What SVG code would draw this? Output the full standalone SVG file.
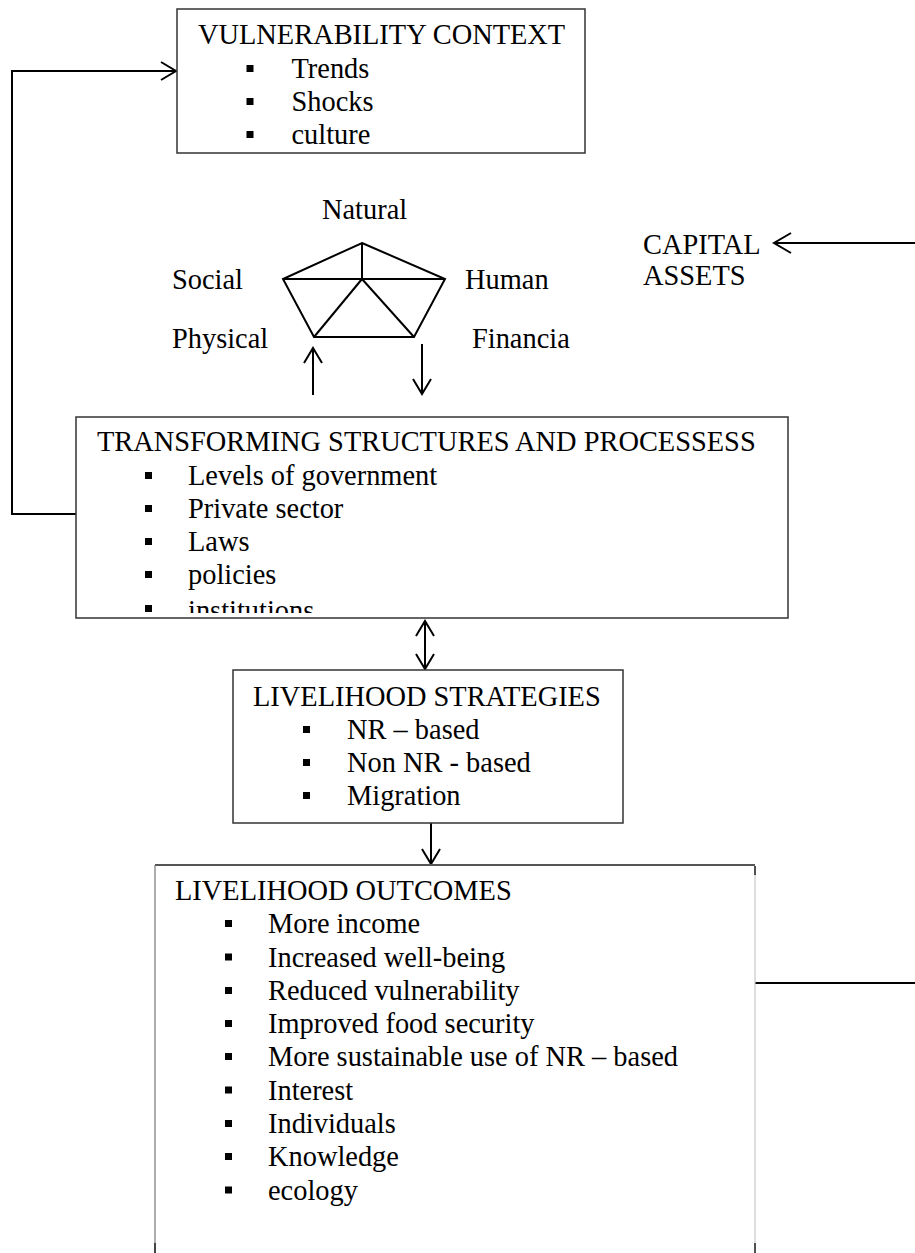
<svg xmlns="http://www.w3.org/2000/svg" xmlns:xlink="http://www.w3.org/1999/xlink" width="915" height="1253" viewBox="0 0 915 1253">
  <style>
    .t { font-family: "Liberation Serif", "Times New Roman", serif; font-size: 28.4px; fill: #000; }
    .box { fill: #fff; stroke: #333; stroke-width: 1.5; }
    .ln { fill: none; stroke: #000; stroke-width: 2; }
    .pent { fill: none; stroke: #000; stroke-width: 2; stroke-linejoin: miter; }
  </style>
  <defs>
    <rect id="bul" x="0" y="0" width="7" height="7" fill="#000"/>
    <marker id="chev" viewBox="-18 -11 20 22" markerWidth="20" markerHeight="22" refX="0" refY="0" orient="auto-start-reverse" markerUnits="userSpaceOnUse">
      <path d="M-15,-9 L0,0 L-15,9" fill="none" stroke="#000" stroke-width="2"/>
    </marker>
    <marker id="chevL" viewBox="-20 -12 22 24" markerWidth="22" markerHeight="24" refX="0" refY="0" orient="auto" markerUnits="userSpaceOnUse">
      <path d="M-17,-10 L0,0 L-17,10" fill="none" stroke="#000" stroke-width="2"/>
    </marker>
    <clipPath id="tsClip">
      <rect x="76" y="417" width="712" height="196"/>
    </clipPath>
  </defs>

  <!-- connectors -->
  <g id="connectors">
    <polyline class="ln" points="78,514 12,514 12,71 176,71" marker-end="url(#chev)"/>
    <line class="ln" x1="313" y1="395" x2="313" y2="348" marker-end="url(#chev)"/>
    <line class="ln" x1="422" y1="344" x2="422" y2="394" marker-end="url(#chev)"/>
    <line class="ln" x1="915" y1="243" x2="774" y2="243" marker-end="url(#chevL)"/>
    <line class="ln" x1="425" y1="621" x2="425" y2="669" marker-start="url(#chev)" marker-end="url(#chev)"/>
    <line class="ln" x1="431" y1="823" x2="431" y2="864" marker-end="url(#chev)"/>
    <line class="ln" x1="755" y1="983" x2="915" y2="983"/>
  </g>

  <!-- vulnerability context -->
  <g id="vulnerability">
    <rect class="box" x="177" y="9" width="408" height="144"/>
    <text class="t" x="198" y="44">VULNERABILITY CONTEXT</text>
    <use xlink:href="#bul" x="246.5" y="65"/>
    <text class="t" x="291.5" y="78">Trends</text>
    <use xlink:href="#bul" x="246.5" y="98"/>
    <text class="t" x="291.5" y="111">Shocks</text>
    <use xlink:href="#bul" x="246.5" y="131"/>
    <text class="t" x="291.5" y="144">culture</text>
  </g>

  <!-- capital assets pentagon -->
  <g id="capital-pentagon">
    <polygon class="pent" points="362,243 445,279 414,337 314,337 283,279"/>
    <line class="pent" x1="283" y1="279" x2="445" y2="279"/>
    <line class="pent" x1="362" y1="243" x2="362" y2="279"/>
    <line class="pent" x1="362" y1="279" x2="314" y2="337"/>
    <line class="pent" x1="362" y1="279" x2="414" y2="337"/>
    <text class="t" x="322" y="219">Natural</text>
    <text class="t" x="172" y="289">Social</text>
    <text class="t" x="465" y="289">Human</text>
    <text class="t" x="172" y="348">Physical</text>
    <text class="t" x="472" y="348">Financia</text>
  </g>

  <g id="capital-assets">
    <text class="t" x="643" y="254">CAPITAL</text>
    <text class="t" x="643" y="285">ASSETS</text>
  </g>

  <!-- transforming structures and processes -->
  <g id="transforming">
    <rect class="box" x="76" y="417" width="712" height="201"/>
    <g clip-path="url(#tsClip)">
      <text class="t" x="97" y="451">TRANSFORMING STRUCTURES AND PROCESSESS</text>
      <use xlink:href="#bul" x="145" y="472"/>
      <text class="t" x="188" y="485">Levels of government</text>
      <use xlink:href="#bul" x="145" y="505"/>
      <text class="t" x="188" y="518">Private sector</text>
      <use xlink:href="#bul" x="145" y="538"/>
      <text class="t" x="188" y="551">Laws</text>
      <use xlink:href="#bul" x="145" y="571"/>
      <text class="t" x="188" y="584">policies</text>
      <use xlink:href="#bul" x="145" y="605"/>
      <text class="t" x="188" y="620">institutions</text>
    </g>
  </g>

  <!-- livelihood strategies -->
  <g id="strategies">
    <rect class="box" x="233" y="670" width="390" height="153"/>
    <text class="t" x="253" y="706">LIVELIHOOD STRATEGIES</text>
    <use xlink:href="#bul" x="303" y="726"/>
    <text class="t" x="347" y="739">NR – based</text>
    <use xlink:href="#bul" x="303" y="759"/>
    <text class="t" x="347" y="772">Non NR - based</text>
    <use xlink:href="#bul" x="303" y="792"/>
    <text class="t" x="347" y="805">Migration</text>
  </g>

  <!-- livelihood outcomes -->
  <g id="outcomes">
    <line x1="155" y1="865" x2="755" y2="865" stroke="#555" stroke-width="2"/>
    <line x1="155" y1="865" x2="155" y2="1253" stroke="#777" stroke-width="1.2"/>
    <line x1="755" y1="866" x2="755" y2="1253" stroke="#c8c8c8" stroke-width="1.2"/>
    <line x1="755" y1="866" x2="755" y2="875" stroke="#222" stroke-width="1.5"/>
    <line x1="755" y1="1243" x2="755" y2="1253" stroke="#222" stroke-width="1.5"/>
    <line x1="155" y1="1243" x2="155" y2="1253" stroke="#222" stroke-width="1.5"/>
    <text class="t" x="175" y="900">LIVELIHOOD OUTCOMES</text>
    <use xlink:href="#bul" x="225" y="920"/>
    <text class="t" x="268" y="933">More income</text>
    <use xlink:href="#bul" x="225" y="953.5"/>
    <text class="t" x="268" y="966.5">Increased well-being</text>
    <use xlink:href="#bul" x="225" y="987"/>
    <text class="t" x="268" y="1000">Reduced vulnerability</text>
    <use xlink:href="#bul" x="225" y="1020"/>
    <text class="t" x="268" y="1033">Improved food security</text>
    <use xlink:href="#bul" x="225" y="1053"/>
    <text class="t" x="268" y="1066">More sustainable use of NR – based</text>
    <use xlink:href="#bul" x="225" y="1086.5"/>
    <text class="t" x="268" y="1099.5">Interest</text>
    <use xlink:href="#bul" x="225" y="1120"/>
    <text class="t" x="268" y="1133">Individuals</text>
    <use xlink:href="#bul" x="225" y="1153"/>
    <text class="t" x="268" y="1166">Knowledge</text>
    <use xlink:href="#bul" x="225" y="1186.5"/>
    <text class="t" x="268" y="1199.5">ecology</text>
  </g>
</svg>
